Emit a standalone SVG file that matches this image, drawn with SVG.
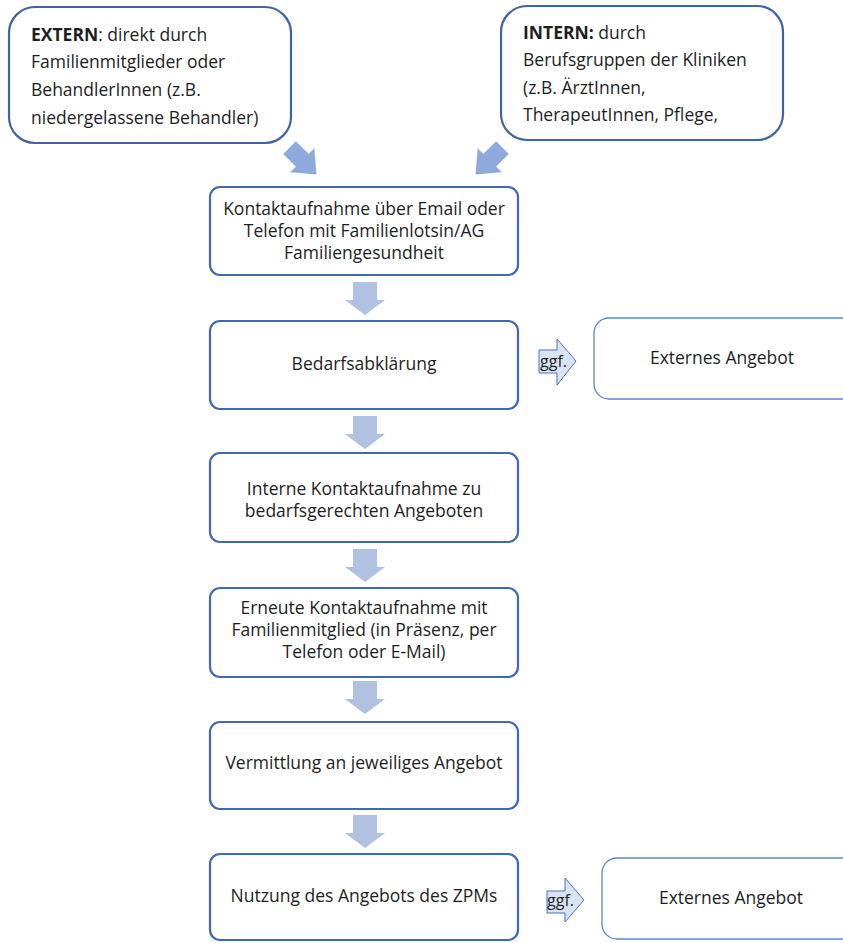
<svg xmlns="http://www.w3.org/2000/svg" width="843" height="943" viewBox="0 0 843 943">
<defs>
<style>
.t{font-family:"Open Sans","Liberation Sans",sans-serif;font-size:17.5px;fill:#1e1e1e}
.c{text-anchor:middle}
.b{font-weight:bold}
.g{font-size:16px}
.top{fill:#fff;stroke:#3e64a6;stroke-width:2.2}
.box{fill:#fff;stroke:#4169b2;stroke-width:2.2}
.ext{fill:#fff;stroke:#5b86cf;stroke-width:1.3}
.diag{fill:#8eaadd}
.down{fill:#b1c1e2}
.ggf{fill:#dae3f3;stroke:#4a72bf;stroke-width:1}
</style>
<path id="dn" d="M-12,0 H12 V18 H20 L0,33 L-20,18 H-12 Z"/>
<path id="dg" d="M-9,-19 H9 V-1 H17 L0,19 L-17,-1 H-9 Z"/>
</defs>
<rect width="843" height="943" fill="#fff"/>

<g id="extern">
<rect class="top" x="9" y="7" width="282" height="136" rx="26"/>
<text class="t" x="31" y="41"><tspan class="b">EXTERN</tspan>: direkt durch</text>
<text class="t" x="31" y="68">Familienmitglieder oder</text>
<text class="t" x="31" y="96">BehandlerInnen (z.B.</text>
<text class="t" x="31" y="124">niedergelassene Behandler)</text>
</g>

<g id="intern">
<rect class="top" x="501" y="6" width="282" height="134" rx="26"/>
<text class="t" x="523" y="39"><tspan class="b">INTERN:</tspan> durch</text>
<text class="t" x="523" y="66">Berufsgruppen der Kliniken</text>
<text class="t" x="523" y="94">(z.B. ÄrztInnen,</text>
<text class="t" x="523" y="121">TherapeutInnen, Pflege,</text>
</g>

<g id="kontakt">
<rect class="box" x="210" y="187" width="308" height="88" rx="10"/>
<text class="t c" x="364" y="215">Kontaktaufnahme über Email oder</text>
<text class="t c" x="364" y="237">Telefon mit Familienlotsin/AG</text>
<text class="t c" x="364" y="259">Familiengesundheit</text>
</g>

<g id="bedarf">
<rect class="box" x="210" y="321" width="308" height="88" rx="10"/>
<text class="t c" x="364" y="370">Bedarfsabklärung</text>
</g>

<g id="intern-kontakt">
<rect class="box" x="210" y="453" width="308" height="89" rx="10"/>
<text class="t c" x="364" y="495">Interne Kontaktaufnahme zu</text>
<text class="t c" x="364" y="517">bedarfsgerechten Angeboten</text>
</g>

<g id="erneut">
<rect class="box" x="210" y="588" width="308" height="89" rx="10"/>
<text class="t c" x="364" y="614">Erneute Kontaktaufnahme mit</text>
<text class="t c" x="364" y="636">Familienmitglied (in Präsenz, per</text>
<text class="t c" x="364" y="658">Telefon oder E-Mail)</text>
</g>

<g id="vermittlung">
<rect class="box" x="210" y="722" width="308" height="87" rx="10"/>
<text class="t c" x="364" y="769">Vermittlung an jeweiliges Angebot</text>
</g>

<g id="nutzung">
<rect class="box" x="210" y="854" width="308" height="86" rx="10"/>
<text class="t c" x="364" y="902">Nutzung des Angebots des ZPMs</text>
</g>

<g id="extern-angebot-1">
<rect class="ext" x="594" y="318" width="270" height="81" rx="15"/>
<text class="t c" x="722" y="364">Externes Angebot</text>
</g>

<g id="extern-angebot-2">
<rect class="ext" x="602" y="858" width="270" height="81" rx="15"/>
<text class="t c" x="731" y="904">Externes Angebot</text>
</g>

<g id="connectors">
<use href="#dg" class="diag" transform="translate(303,161) rotate(-45)"/>
<use href="#dg" class="diag" transform="translate(489,161) rotate(45)"/>
<use href="#dn" class="down" transform="translate(365,282)"/>
<use href="#dn" class="down" transform="translate(365,416)"/>
<use href="#dn" class="down" transform="translate(365,549)"/>
<use href="#dn" class="down" transform="translate(365,681)"/>
<use href="#dn" class="down" transform="translate(365,815)"/>
<g id="ggf-1">
<path class="ggf" d="M539,350 H557 V339 L576,361 L557,385 V373 H539 Z"/>
<text class="t g" x="540" y="367">ggf.</text>
</g>
<g id="ggf-2">
<path class="ggf" d="M547,891 H565 V878 L584,900 L565,922 V913 H547 Z"/>
<text class="t g" x="547" y="906">ggf.</text>
</g>
</g>
</svg>
